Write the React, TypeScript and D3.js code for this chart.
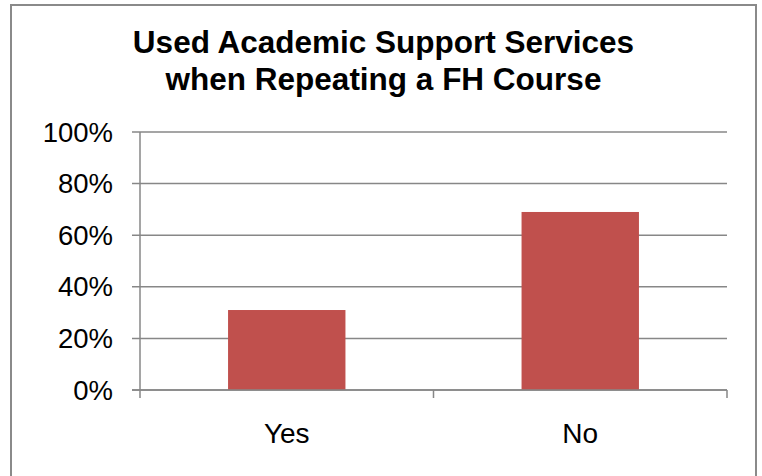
import React from "react";
import * as d3 from "d3";

const titleLines = ["Used Academic Support Services", "when Repeating a FH Course"];
const categories = ["Yes", "No"];
const values = [0.31, 0.69];
const yTicks = [0, 0.2, 0.4, 0.6, 0.8, 1.0];

const W = 762;
const H = 476;
const plotLeft = 140;
const plotRight = 727;
const plotTop = 132;
const plotBottom = 390;
const lineColor = "#878787";
const barColor = "#C0504D";
const font = "'Liberation Sans', Arial, Helvetica, sans-serif";

export default function App() {
  const x = d3
    .scaleBand<string>()
    .domain(categories)
    .range([plotLeft, plotRight])
    .paddingInner(0.6)
    .paddingOuter(0.3);
  const y = d3.scaleLinear().domain([0, 1]).range([plotBottom, plotTop]);
  const fmt = d3.format(".0%");
  const step = x.step();
  const gap = step - x.bandwidth();
  const boundaries = categories
    .map((c) => (x(c) as number) - gap / 2)
    .concat([(x(categories[categories.length - 1]) as number) + x.bandwidth() + gap / 2]);

  return (
    <svg
      width={W}
      height={H}
      style={{ position: "absolute", left: 0, top: 0, background: "#fff" }}
    >
      <rect x={11} y={5} width={745} height={480} fill="#fff" stroke="#8a8a8a" strokeWidth={2} />
      {titleLines.map((t, i) => (
        <text
          key={i}
          x={383.5}
          y={53 + i * 37}
          textAnchor="middle"
          fontFamily={font}
          fontWeight="bold"
          fontSize={31.5}
          fill="#000"
        >
          {t}
        </text>
      ))}
      {yTicks.map((t) => (
        <g key={t}>
          <line
            x1={plotLeft - 8}
            x2={plotRight}
            y1={y(t)}
            y2={y(t)}
            stroke={lineColor}
            strokeWidth={1.5}
          />
          <text
            x={113}
            y={y(t)}
            dy="0.35em"
            textAnchor="end"
            fontFamily={font}
            fontSize={27.5}
            fill="#000"
          >
            {fmt(t)}
          </text>
        </g>
      ))}
      {categories.map((c, i) => (
        <rect
          key={c}
          x={x(c)}
          y={y(values[i])}
          width={x.bandwidth()}
          height={y(0) - y(values[i])}
          fill={barColor}
        />
      ))}
      <line x1={plotLeft} x2={plotLeft} y1={plotTop} y2={plotBottom + 8} stroke={lineColor} strokeWidth={1.5} />
      <line x1={plotLeft - 8} x2={plotRight} y1={plotBottom} y2={plotBottom} stroke={lineColor} strokeWidth={1.5} />
      {boundaries.slice(1).map((b, i) => (
        <line key={i} x1={b} x2={b} y1={plotBottom} y2={plotBottom + 8} stroke={lineColor} strokeWidth={1.5} />
      ))}
      {categories.map((c) => (
        <text
          key={c}
          x={(x(c) as number) + x.bandwidth() / 2}
          y={443}
          textAnchor="middle"
          fontFamily={font}
          fontSize={28}
          fill="#000"
        >
          {c}
        </text>
      ))}
    </svg>
  );
}
